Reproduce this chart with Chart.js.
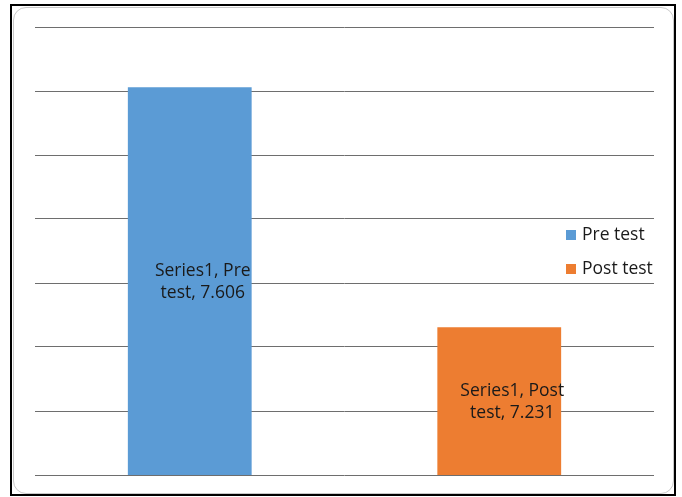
<!DOCTYPE html>
<html>
<head>
<meta charset="utf-8">
<script src="https://cdn.jsdelivr.net/npm/chart.js@4"></script>
<style>
  html, body { margin: 0; padding: 0; background: #fff; }
  #frame { position: absolute; left: 10px; top: 4px; width: 666px; height: 492px; border: 2px solid #000; box-sizing: border-box; }
  #inner { position: absolute; left: 1px; top: 1px; right: 0; bottom: 0; border: 1px solid #c8c8c8; border-radius: 13px; }
  #wrap { position: absolute; left: 0; top: 0; width: 682px; height: 497px; }
</style>
</head>
<body>
<div id="frame"><div id="inner"></div></div>
<div id="wrap"><canvas id="chart" width="682" height="497"></canvas></div>
<script>
// Data
const categories = ['Series1'];
const seriesNames = ['Pre test', 'Post test'];
const preTest = [7.606];
const postTest = [7.231];
const colors = ['#5B9BD5', '#ED7D31'];
const labelFont = '17.5px "Open Sans"';

// draws the in-bar labels and the legend that sits over the plot
const excelBits = {
  id: 'excelBits',
  afterDraw(chart) {
    const ctx = chart.ctx;
    const yScale = chart.scales.y;
    ctx.save();
    ctx.font = labelFont;
    ctx.textAlign = 'center';
    ctx.textBaseline = 'middle';
    chart.data.datasets.forEach((ds, i) => {
      chart.getDatasetMeta(i).data.forEach((bar, j) => {
        const p = bar.getProps(['x', 'y'], true);
        const bottom = yScale.getPixelForValue(yScale.min);
        const cy = (p.y + bottom) / 2;
        const words = ds.label.split(' ');
        const line1 = chart.data.labels[j] + ', ' + words[0];
        const line2 = words.slice(1).join(' ') + ', ' + ds.data[j].toFixed(3);
        ctx.fillStyle = '#1a1a1a';
        ctx.fillText(line1, p.x + 13, cy - 10);
        ctx.fillText(line2, p.x + 13, cy + 12);
      });
    });
    // legend
    ctx.textAlign = 'left';
    chart.data.datasets.forEach((ds, i) => {
      const y = 235 + i * 34;
      ctx.fillStyle = ds.backgroundColor;
      ctx.fillRect(566, y - 5, 10, 10);
      ctx.fillStyle = '#1a1a1a';
      ctx.fillText(ds.label, 582, y);
    });
    ctx.restore();
  }
};

new Chart(document.getElementById('chart').getContext('2d'), {
  type: 'bar',
  data: {
    labels: categories,
    datasets: [
      { label: seriesNames[0], data: preTest, backgroundColor: colors[0] },
      { label: seriesNames[1], data: postTest, backgroundColor: colors[1] }
    ]
  },
  options: {
    responsive: false,
    animation: false,
    events: [],
    layout: { padding: { left: 35, right: 28, top: 27, bottom: 14 } },
    datasets: { bar: { categoryPercentage: 1.0, barPercentage: 0.4 } },
    plugins: { legend: { display: false }, tooltip: { enabled: false } },
    scales: {
      x: {
        grid: { display: false },
        border: { display: false },
        ticks: { display: false }
      },
      y: {
        min: 7.0,
        max: 7.7,
        ticks: { display: false, stepSize: 0.1 },
        grid: { color: '#6e6e6e', lineWidth: 1, drawTicks: false },
        border: { display: false }
      }
    }
  },
  plugins: [excelBits]
});
</script>
</body>
</html>
